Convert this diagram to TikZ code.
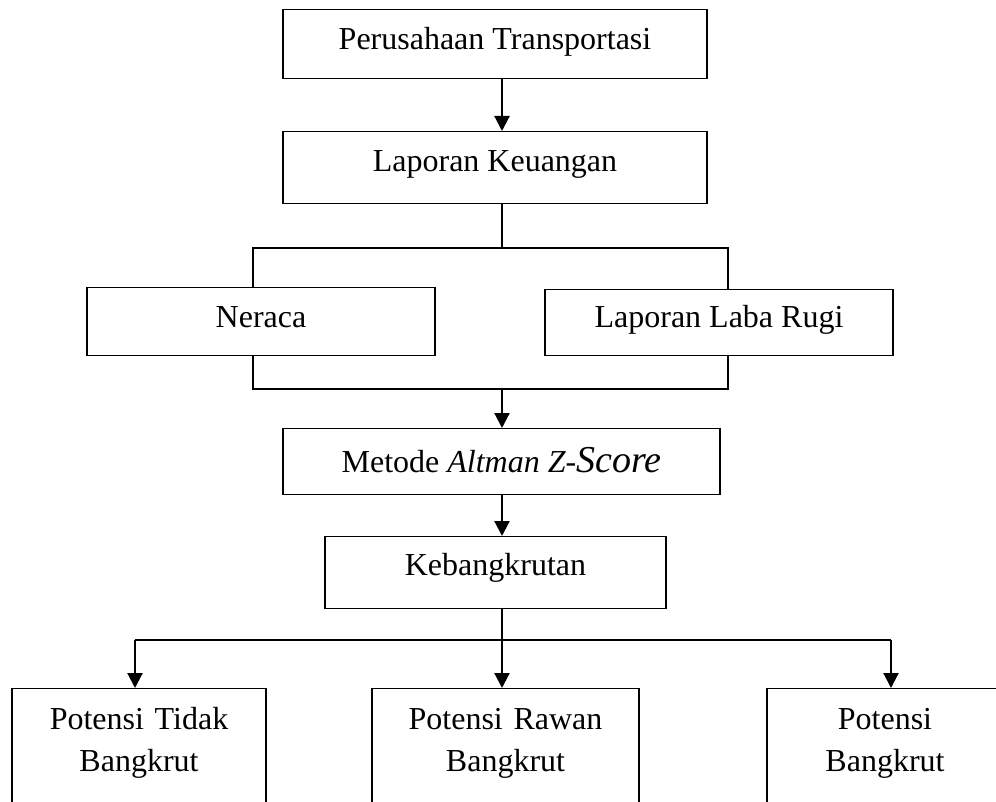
\documentclass[tikz,border=0pt]{standalone}
\usepackage{fontspec}
\setmainfont{Liberation Serif}
\usetikzlibrary{arrows.meta, positioning}

\begin{document}
\begin{tikzpicture}[x=1pt, y=-1pt, font=\fontsize{32}{42}\selectfont]
      \tikzstyle{block} = [rectangle, draw, line width=1.4pt, inner sep=0pt, text centered, anchor=north]
      \tikzstyle{result} = [block, align=center, text height=41pt, text depth=200pt]
      \tikzstyle{conn} = [draw, line width=1.4pt]
      \tikzstyle{line} = [draw, line width=2.2pt, -{Triangle[length=15pt, width=15pt]}]

      \useasboundingbox (0,0) rectangle (996,802);
      \clip (0,0) rectangle (996,802);

      \coordinate (split) at (502,248);
      \coordinate (join) at (502,389);
      \coordinate (fork) at (502,640);

      \node [block, minimum width=424pt, text height=40pt, text depth=29pt] (perusahaan) at (495,9) {Perusahaan Transportasi};
      \node [block, minimum width=424pt, text height=40pt, text depth=32pt] (laporan) at (495,131) {Laporan Keuangan};
      \node [block, minimum width=348pt, text height=40pt, text depth=28pt] (neraca) at (261,287) {Neraca};
      \node [block, minimum width=348pt, text height=38pt, text depth=28pt] (labarugi) at (719,289) {Laporan Laba Rugi};
      \node [block, minimum width=437pt, text height=44pt, text depth=22pt] (metode) at (501.5,428) {Metode \textit{Altman Z-{\fontsize{38}{42}\selectfont Score}}};
      \node [block, minimum width=341pt, text height=39pt, text depth=33pt] (kebangkrutan) at (495.5,536) {Kebangkrutan};
      \node [result, text width=254pt] (tidak) at (139,688) {Potensi Tidak\\Bangkrut};
      \node [result, text width=267pt] (rawan) at (505.5,688) {Potensi Rawan\\Bangkrut};
      \node [result, text width=236pt] (bangkrut) at (885,688) {Potensi\\Bangkrut};

      \path [line] (perusahaan.south -| split) -- (laporan.north -| split);
      \path [conn] (laporan.south -| split) -- (split);
      \path [conn] (253,0 |- neraca.north) |- (728,0 |- split) -- (728,0 |- labarugi.north);
      \path [conn] (253,0 |- neraca.south) |- (728,0 |- join) -- (728,0 |- labarugi.south);
      \path [line] (join) -- (metode.north -| join);
      \path [line] (metode.south -| join) -- (kebangkrutan.north -| join);
      \path [conn] (kebangkrutan.south -| fork) -- (fork);
      \path [conn] (135,0 |- fork) -- (891,0 |- fork);
      \path [line] (135,0 |- fork) -- (135,0 |- tidak.north);
      \path [line] (fork) -- (rawan.north -| fork);
      \path [line] (891,0 |- fork) -- (891,0 |- bangkrut.north);
    \end{tikzpicture}
\end{document}
